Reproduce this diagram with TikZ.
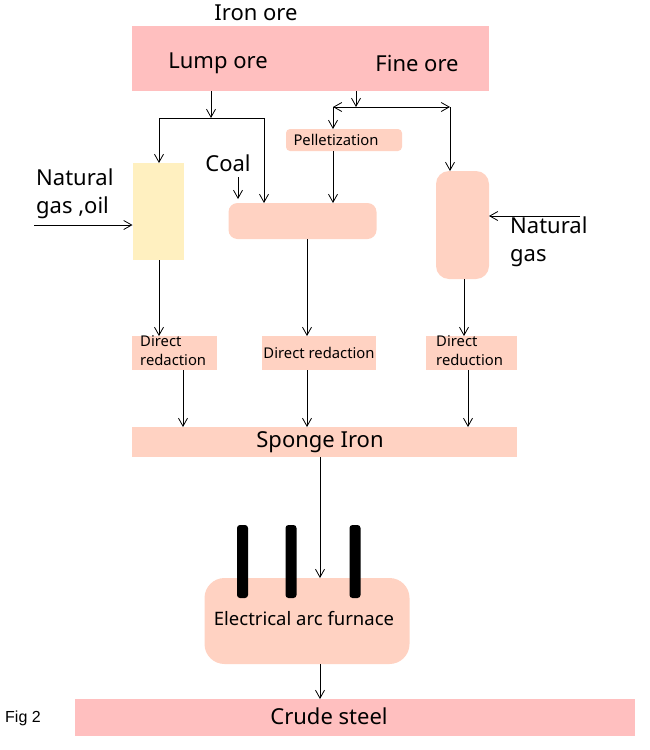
\documentclass[tikz,border=0pt]{standalone}
\usepackage{fontspec}
\setmainfont{Noto Sans}
\newfontfamily\figfont{Liberation Sans}
\usetikzlibrary{arrows.meta}
\definecolor{pinkbox}{RGB}{255,191,191}
\definecolor{peach}{RGB}{255,210,194}
\definecolor{paleyellow}{RGB}{255,240,192}
\tikzset{
  big/.style={font=\fontsize{22}{28}\selectfont},
  small/.style={font=\fontsize{14.8}{19}\selectfont},
  boxbase/.style={inner sep=0pt, outer sep=0pt, anchor=center},
  arr/.style={-{Straight Barb[length=8pt,width=9pt]}, line width=0.8pt},
  arrboth/.style={{Straight Barb[length=8pt,width=9pt]}-{Straight Barb[length=8pt,width=9pt]}, line width=0.8pt},
  plain/.style={line width=0.8pt},
}
\begin{document}
\begin{tikzpicture}[x=1pt,y=-1pt]
\useasboundingbox (0,0) rectangle (650,750);
% boxes
\node[boxbase, fill=pinkbox, minimum width=357, minimum height=65] (top) at (310.5,58.5) {};
\node[big] (iron) at (256,13) {Iron ore};
\node[big] (lump) at (218,63) {Lump ore};
\node[big] (fine) at (417,64) {Fine ore};
\node[boxbase, fill=peach, rounded corners=4, minimum width=116, minimum height=22] (pel) at (344,140) {};
\node[small, anchor=west] (peltext) at (290,140) {Pelletization};
\node[boxbase, fill=paleyellow, minimum width=51, minimum height=97] (yel) at (158,211.5) {};
\node[boxbase, fill=peach, rounded corners=9, minimum width=148, minimum height=36] (mid) at (302.5,221) {};
\node[boxbase, fill=peach, rounded corners=13, minimum width=53, minimum height=108] (rbox) at (462.5,225) {};
\node[big] (coal) at (228,163) {Coal};
\node[big, align=left, anchor=north west, inner sep=0pt] (ngo) at (36,169) {Natural\\gas ,oil};
\node[big, align=left, anchor=north west, inner sep=0pt] (ng) at (510,217) {Natural\\gas};
\node[boxbase, fill=peach, minimum width=85, minimum height=34] (dr1) at (174.5,353) {};
\node[small, align=left, anchor=north west, inner sep=0pt] (dr1t) at (140,335) {Direct\\redaction};
\node[boxbase, fill=peach, minimum width=114, minimum height=34] (dr2) at (319,353) {};
\node[small] (dr2t) at (319,353) {Direct redaction};
\node[boxbase, fill=peach, minimum width=91, minimum height=34] (dr3) at (471.5,353) {};
\node[small, align=left, anchor=north west, inner sep=0pt] (dr3t) at (436,335) {Direct\\reduction};
\node[boxbase, fill=peach, minimum width=385, minimum height=30] (sponge) at (324.5,442) {};
\node[big] (spt) at (320,442) {Sponge Iron};
\node[boxbase, fill=peach, rounded corners=20, minimum width=205, minimum height=86] (furn) at (307,621) {};
\node[font=\fontsize{18.5}{22}\selectfont] (furnt) at (304,619) {Electrical arc furnace};
\foreach \ex in {242.5, 291, 355}
  \fill[black, rounded corners=3] (\ex-5.5,525) rectangle (\ex+5.5,598);
\node[boxbase, fill=pinkbox, minimum width=560, minimum height=37] (crude) at (355,717.5) {};
\node[big] (crt) at (329,716) {Crude steel};
\node[font=\figfont\fontsize{16}{18}\selectfont] (fig) at (23,718) {Fig 2};
% junctions
\coordinate (j1) at (211,118);
\coordinate (j1l) at (159,118);
\coordinate (j1r) at (264,118);
\coordinate (j2) at (356,107);
\coordinate (j2l) at (333,107);
\coordinate (j2r) at (450,107);
\coordinate (coalstart) at (238,177);
\coordinate (coalend) at (238,199);
\coordinate (ngostart) at (34,225);
\coordinate (ngstart) at (580,216);
% connectors
\draw[arr] (top.south -| j1) -- (j1);
\draw[plain] (j1l) -- (j1r);
\draw[arr] (j1l) -- (yel.north -| j1l);
\draw[arr] (j1r) -- (mid.north -| j1r);
\draw[arr] (top.south -| j2) -- (j2);
\draw[arrboth] (j2l) -- (j2r);
\draw[arr] (j2l) -- (pel.north -| j2l);
\draw[arr] (j2r) -- (rbox.north -| j2r);
\draw[arr] (pel.south -| j2l) -- (mid.north -| j2l);
\draw[arr] (coalstart) -- (coalend);
\draw[arr] (ngostart) -- (yel.west |- ngostart);
\draw[arr] (ngstart) -- (rbox.east |- ngstart);
\draw[arr] (yel.south -| 159,0) -- (dr1.north -| 159,0);
\draw[arr] (mid.south -| 307,0) -- (dr2.north -| 307,0);
\draw[arr] (rbox.south -| 464,0) -- (dr3.north -| 464,0);
\draw[arr] (dr1.south -| 183,0) -- (sponge.north -| 183,0);
\draw[arr] (dr2.south -| 307,0) -- (sponge.north -| 307,0);
\draw[arr] (dr3.south -| 468,0) -- (sponge.north -| 468,0);
\draw[arr] (sponge.south -| 320,0) -- (furn.north -| 320,0);
\draw[arr] (furn.south -| 320,0) -- (crude.north -| 320,0);
\end{tikzpicture}
\end{document}
